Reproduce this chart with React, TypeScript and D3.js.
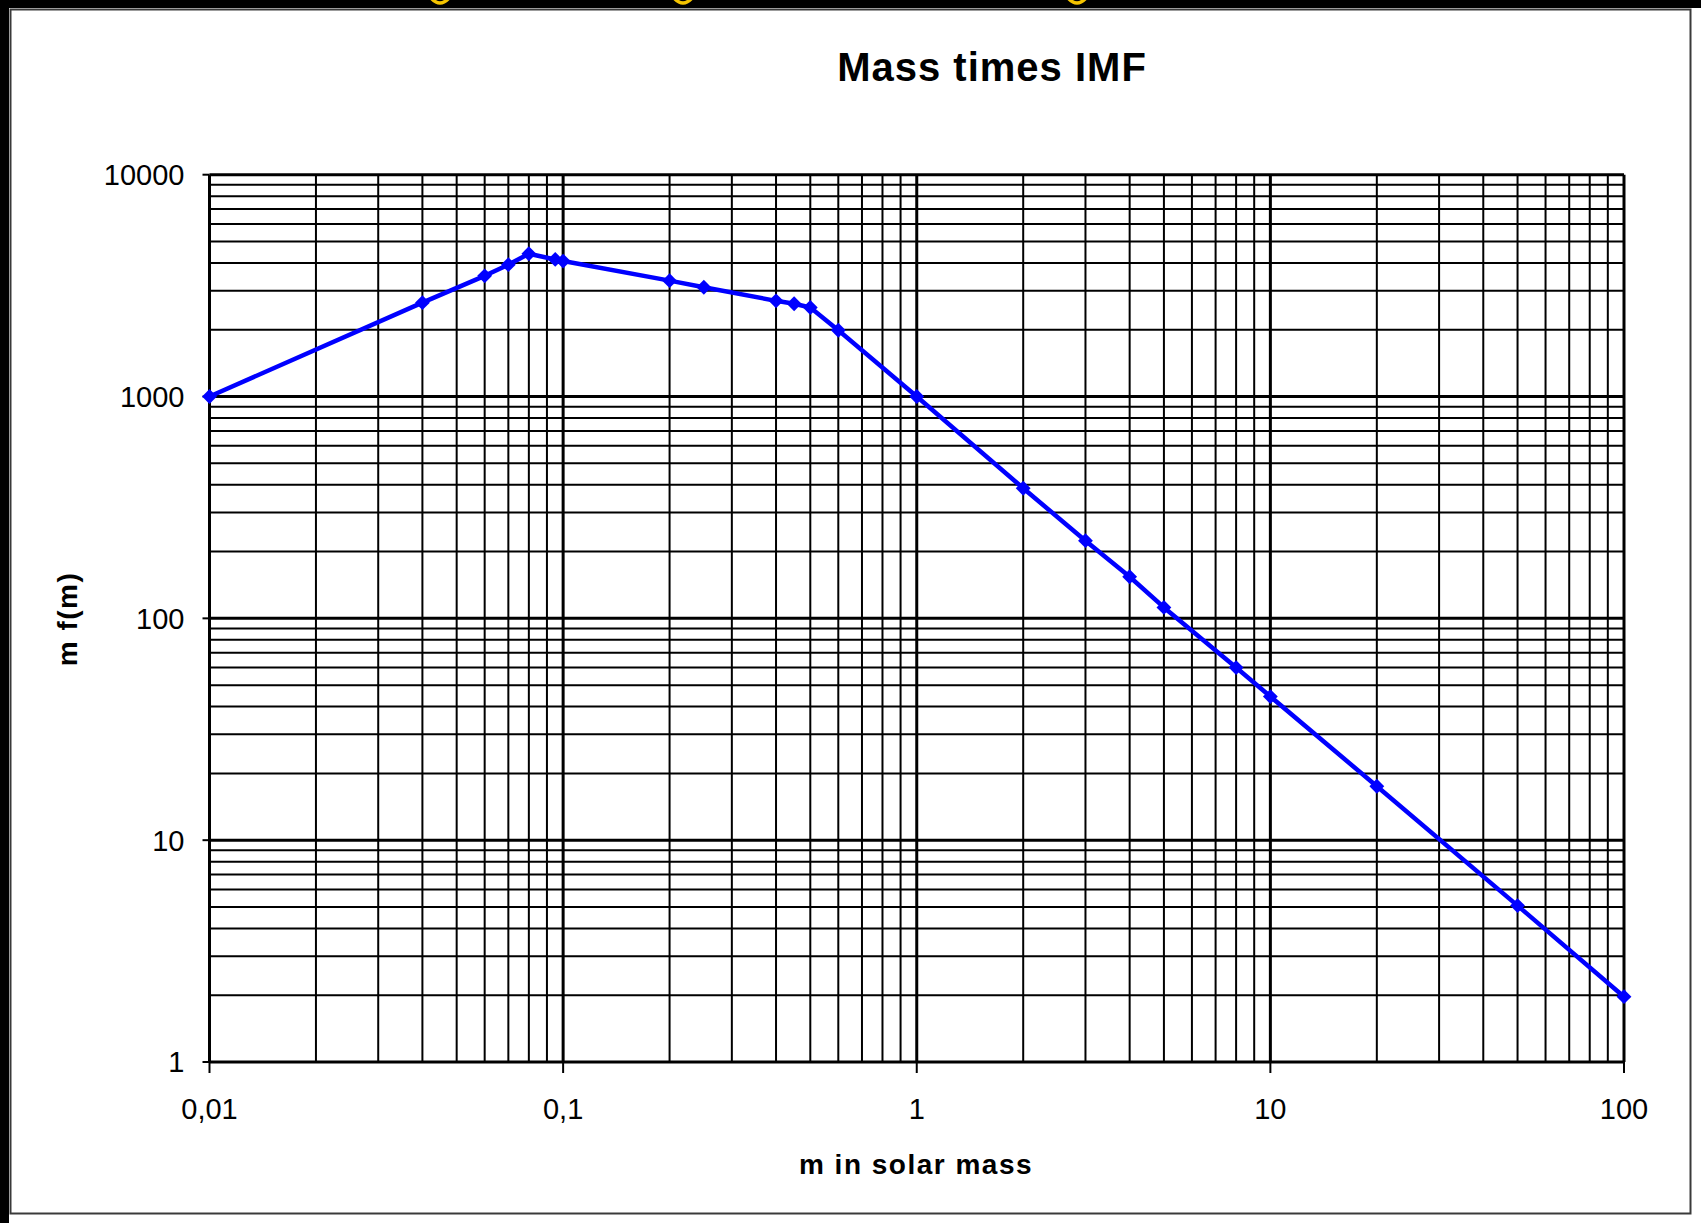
import React, { useEffect, useRef } from 'react';
import * as d3 from 'd3';

// mass in solar masses and m*f(m)
const masses = [0.01, 0.04, 0.06, 0.07, 0.08, 0.095, 0.1, 0.2, 0.25, 0.4, 0.45, 0.5, 0.6, 1, 2, 3, 4, 5, 8, 10, 20, 50, 100];
const mfm = [1000, 2650, 3500, 3930, 4400, 4150, 4080, 3330, 3110, 2700, 2620, 2520, 1990, 1000, 386, 224, 154, 112, 60, 44.4, 17.5, 5.07, 1.97];

const xTickValues = [0.01, 0.1, 1, 10, 100];
const xTickLabels = ['0,01', '0,1', '1', '10', '100'];
const yTickValues = [1, 10, 100, 1000, 10000];
const yTickLabels = ['1', '10', '100', '1000', '10000'];

const title = 'Mass times IMF';
const xTitle = 'm  in solar mass';
const yTitle = 'm f(m)';

const W = 1701;
const H = 1223;
const FONT = '"Liberation Sans", Arial, sans-serif';

const App: React.FC = () => {
  const svgRef = useRef<SVGSVGElement>(null);

  useEffect(() => {
    if (!svgRef.current) return;
    const svg = d3.select(svgRef.current);
    svg.selectAll('*').remove();

    // page background: white with a black band top and left
    svg.append('rect').attr('width', W).attr('height', H).attr('fill', '#fff');
    svg.append('rect').attr('x', 0).attr('y', 0).attr('width', W).attr('height', 8).attr('fill', '#000');
    svg.append('rect').attr('x', 0).attr('y', 0).attr('width', 9).attr('height', H).attr('fill', '#000');

    // bottoms of yellow glyphs peeking in at the top edge
    [440, 683, 1077].forEach(x => {
      svg.append('path')
        .attr('d', `M${x - 9},-2 Q${x},8 ${x + 9},-2`)
        .attr('fill', 'none')
        .attr('stroke', '#f5c400')
        .attr('stroke-width', 3.5);
    });

    // chart frame
    svg.append('rect')
      .attr('x', 10.5).attr('y', 9.5).attr('width', 1680).attr('height', 1204)
      .attr('fill', '#fff').attr('stroke', '#3a3a3a').attr('stroke-width', 2);

    const plot = { left: 209.5, right: 1624, top: 174.7, bottom: 1062 };

    const xScale = d3.scaleLog().domain([0.01, 100]).range([plot.left, plot.right]);
    const yScale = d3.scaleLog().domain([1, 10000]).range([plot.bottom, plot.top]);

    const isMajor = (v: number) => Math.abs(Math.log10(v) - Math.round(Math.log10(v))) < 1e-6;

    const grid = svg.append('g');

    // horizontal grid lines
    grid.selectAll('.hgrid')
      .data(yScale.ticks())
      .enter()
      .append('line')
      .attr('x1', plot.left).attr('x2', plot.right)
      .attr('y1', d => yScale(d)).attr('y2', d => yScale(d))
      .attr('stroke', '#000')
      .attr('stroke-width', d => isMajor(d) ? 3 : 2);

    // vertical grid lines
    grid.selectAll('.vgrid')
      .data(xScale.ticks())
      .enter()
      .append('line')
      .attr('x1', d => xScale(d)).attr('x2', d => xScale(d))
      .attr('y1', plot.top).attr('y2', plot.bottom)
      .attr('stroke', '#000')
      .attr('stroke-width', d => isMajor(d) ? 3 : 2);

    // tick marks outside the plot
    grid.selectAll('.ytick')
      .data(yTickValues)
      .enter()
      .append('line')
      .attr('x1', plot.left - 7).attr('x2', plot.left)
      .attr('y1', d => yScale(d)).attr('y2', d => yScale(d))
      .attr('stroke', '#000').attr('stroke-width', 2);

    grid.selectAll('.xtick')
      .data(xTickValues)
      .enter()
      .append('line')
      .attr('x1', d => xScale(d)).attr('x2', d => xScale(d))
      .attr('y1', plot.bottom).attr('y2', plot.bottom + 11)
      .attr('stroke', '#000').attr('stroke-width', 2);

    // tick labels
    svg.selectAll('.ylab')
      .data(yTickValues)
      .enter()
      .append('text')
      .attr('x', plot.left - 25)
      .attr('y', d => yScale(d))
      .attr('dy', '0.36em')
      .attr('text-anchor', 'end')
      .style('font-family', FONT).style('font-size', '29px')
      .attr('fill', '#000')
      .text((d, i) => yTickLabels[i]);

    svg.selectAll('.xlab')
      .data(xTickValues)
      .enter()
      .append('text')
      .attr('x', d => xScale(d))
      .attr('y', 1119)
      .attr('text-anchor', 'middle')
      .style('font-family', FONT).style('font-size', '29px')
      .attr('fill', '#000')
      .text((d, i) => xTickLabels[i]);

    // data line
    const pts = masses.map((m, i) => [m, mfm[i]] as [number, number]);
    const line = d3.line<[number, number]>()
      .x(d => xScale(d[0]))
      .y(d => yScale(d[1]));

    svg.append('path')
      .datum(pts)
      .attr('d', line)
      .attr('fill', 'none')
      .attr('stroke', '#0000ff')
      .attr('stroke-width', 4.5)
      .attr('stroke-linejoin', 'round');

    svg.selectAll('.marker')
      .data(pts)
      .enter()
      .append('path')
      .attr('d', d3.symbol().type(d3.symbolSquare).size(110)())
      .attr('transform', d => `translate(${xScale(d[0])},${yScale(d[1])}) rotate(45)`)
      .attr('fill', '#0000ff');

    // titles
    svg.append('text')
      .attr('x', 992).attr('y', 81)
      .attr('text-anchor', 'middle')
      .style('font-family', FONT).style('font-size', '40px').style('font-weight', 'bold')
      .style('letter-spacing', '1px')
      .attr('fill', '#000')
      .text(title);

    svg.append('text')
      .attr('x', 916).attr('y', 1174)
      .attr('text-anchor', 'middle')
      .style('font-family', FONT).style('font-size', '28px').style('font-weight', 'bold')
      .style('letter-spacing', '1.5px')
      .attr('fill', '#000')
      .text(xTitle);

    svg.append('text')
      .attr('transform', `translate(77,619) rotate(-90)`)
      .attr('text-anchor', 'middle')
      .style('font-family', FONT).style('font-size', '28px').style('font-weight', 'bold')
      .style('letter-spacing', '1.5px')
      .attr('fill', '#000')
      .text(yTitle);
  }, []);

  return (
    <svg
      ref={svgRef}
      width={W}
      height={H}
      style={{ position: 'absolute', left: 0, top: 0, display: 'block' }}
    />
  );
};

export default App;
